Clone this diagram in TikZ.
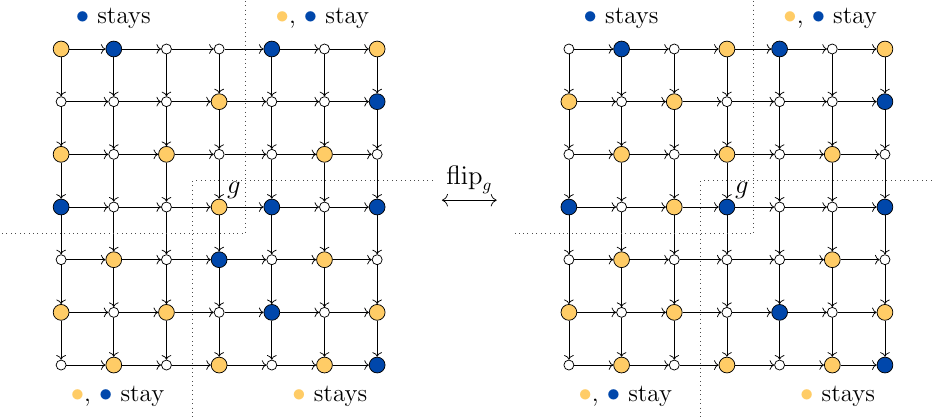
\documentclass[tikz,border=0pt]{standalone}
\usepackage{amssymb,amsmath}
\usepackage{tikz}
\usetikzlibrary{arrows.meta}

\definecolor{ylw}{RGB}{255,204,102}
\definecolor{blu}{RGB}{0,71,171}

\tikzset{
  ptY/.style={circle, draw, fill=ylw, inner sep=0pt, minimum size=0.3cm},
  ptB/.style={circle, draw, fill=blu, inner sep=0pt, minimum size=0.3cm},
  ptw/.style={circle, draw, fill=white, inner sep=0pt, minimum size=0.19cm},
  edge/.style={->, thin},
  sep/.style={dotted, thin, black!70},
  lbl/.style={font=\fontsize{13.5}{16}\selectfont},
}

\newcommand{\ydot}{\textcolor{ylw}{$\bullet$}}
\newcommand{\bdot}{\textcolor{blu}{$\bullet$}}

\begin{document}
\begin{tikzpicture}[x=1cm, y=-1cm]

\useasboundingbox (-1.16,-0.93) rectangle (16.59,7.0);
\clip (-1.16,-0.93) rectangle (16.59,7.0);

% left grid
\foreach \row [count=\i from 0] in {{Y,B,w,w,B,w,Y},{w,w,w,Y,w,w,B},{Y,w,Y,w,w,Y,w},{B,w,w,Y,B,w,B},{w,Y,w,B,w,Y,w},{Y,w,Y,w,B,w,Y},{w,Y,w,Y,w,Y,B}}
  \foreach \c [count=\j from 0] in \row
    \node[pt\c] (l-\i-\j) at (\j,\i) {};

% right grid
\foreach \row [count=\i from 0] in {{w,B,w,Y,B,w,Y},{Y,w,Y,w,w,w,B},{w,Y,w,Y,w,Y,w},{B,w,Y,B,w,w,B},{w,Y,w,w,w,Y,w},{Y,w,Y,w,B,w,Y},{w,Y,w,Y,w,Y,B}}
  \foreach \c [count=\j from 0] in \row
    \node[pt\c] (r-\i-\j) at (\j+9.64,\i) {};

% arrows
\foreach \g in {l,r} {
  \foreach \i in {0,...,6} {
    \foreach \j [count=\k from 1] in {0,...,5} {
      \draw[edge] (\g-\i-\j) -- (\g-\i-\k);
      \draw[edge] (\g-\j-\i) -- (\g-\k-\i);
    }
  }
}

% quadrants and labels
\foreach \g/\dx/\xl in {l/0/-1.2, r/9.64/-1.03} {
  \begin{scope}[shift={(\dx,0)}]
    \draw[sep] (3.5,-1) -- (3.5,3.5) -- (\xl,3.5);
    \draw[sep] (7.05,2.5) -- (2.5,2.5) -- (2.5,7.1);
    \node[lbl, inner sep=0pt] (\g-tl) at (0.99,-0.59) {\bdot\ stays};
    \node[lbl, inner sep=0pt] (\g-tr) at (4.96,-0.59) {\ydot, \bdot\ stay};
    \node[lbl, inner sep=0pt] (\g-bl) at (1.07,6.6) {\ydot, \bdot\ stay};
    \node[lbl, inner sep=0pt] (\g-br) at (5.1,6.6) {\ydot\ stays};
  \end{scope}
  \node[lbl, anchor=south west, inner sep=1pt] (\g-g) at (\g-3-3.north east) {$g$};
}

\coordinate (fa) at (7.23,2.87);
\coordinate (fb) at (8.27,2.87);
\draw[{To[scale=1.3]}-{To[scale=1.3]}] (fa) -- node[lbl, above] (flip) {$\mathrm{flip}_g$} (fb);

\end{tikzpicture}
\end{document}
